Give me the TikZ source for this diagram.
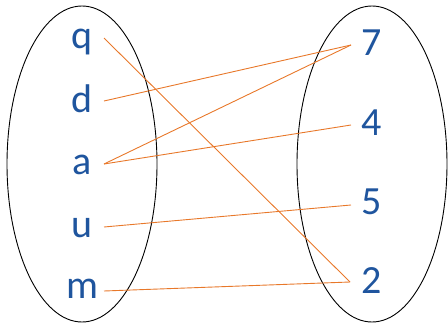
\documentclass[tikz,border=0pt]{standalone}
\usepackage{fontspec}
\setmainfont{Carlito}
\definecolor{lblue}{HTML}{1F559E}
\definecolor{lorange}{HTML}{E8782A}
\begin{document}
\begin{tikzpicture}[x=1pt,y=-1pt,
  lab/.style={text=lblue,font=\fontsize{40}{40}\selectfont,anchor=base,inner sep=0pt},
  link/.style={draw=lorange,line width=0.9pt},
  set/.style={draw=black,line width=0.9pt}]
\useasboundingbox (0,0) rectangle (448,327);
\draw[set] (82,164) ellipse [x radius=75,y radius=158];
\draw[set] (372,164) ellipse [x radius=75,y radius=158];
\node[lab] (q) at (82,48) {q};
\node[lab] (d) at (82,112) {d};
\node[lab] (a) at (82,174) {a};
\node[lab] (u) at (82,237) {u};
\node[lab] (m) at (82,298) {m};
\node[lab] (n7) at (372,55) {7};
\node[lab] (n4) at (372,135) {4};
\node[lab] (n5) at (372,214) {5};
\node[lab] (n2) at (372,293) {2};
\coordinate (qp) at (104,38);
\coordinate (dp) at (104,101);
\coordinate (ap) at (104,164);
\coordinate (up) at (104,227);
\coordinate (mp) at (104,291);
\coordinate (p7) at (351,45);
\coordinate (p4) at (351,125);
\coordinate (p5) at (351,205);
\coordinate (p2) at (350,282);
\draw[link] (qp) -- (p2);
\draw[link] (dp) -- (p7);
\draw[link] (ap) -- (p7);
\draw[link] (ap) -- (p4);
\draw[link] (up) -- (p5);
\draw[link] (mp) -- (p2);
\end{tikzpicture}
\end{document}
